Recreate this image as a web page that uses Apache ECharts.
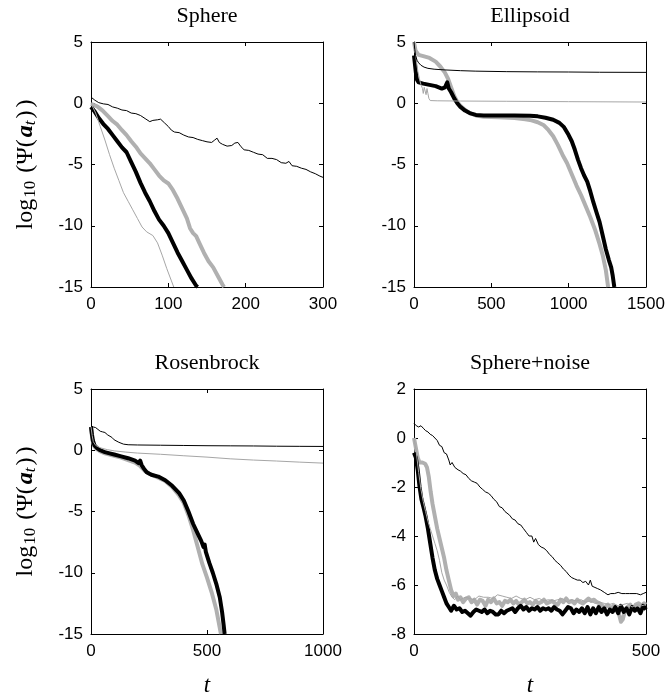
<!DOCTYPE html>
<html lang="en">
<head>
	<meta charset="UTF-8">
	<title>convergence</title>
	<style>
		body{ margin:0; background:#fff; }
		#main{ width:668px; height:696px; }
	</style>
</head>
<body>
	<div id="main"></div>

	<script src="https://cdn.jsdelivr.net/npm/echarts@6/dist/echarts.min.js"></script>
	<script>
		// ---- data, [t, log10 value] ----
		var titles = ['Sphere', 'Ellipsoid', 'Rosenbrock', 'Sphere+noise'];
		var xMax = [300, 1500, 1000, 500];
		var xStep = [100, 500, 500, 500];
		var yMin = [-15, -15, -15, -8];
		var yMax = [5, 5, 5, 2];
		var yStep = [5, 5, 5, 2];

		// Sphere
		var sphereThinBlack = [[0,0.5],[5,0.25],[10,0.05],[16,-0.05],[22,-0.1],[28,-0.3],[34,-0.4],[40,-0.55],[46,-0.6],[52,-0.8],[58,-0.85],[64,-1.0],[70,-1.25],[76,-1.5],[80,-1.4],[86,-1.35],[90,-1.3],[95,-1.6],[100,-1.9],[104,-2.2],[108,-2.35],[114,-2.4],[120,-2.6],[126,-2.75],[132,-2.8],[138,-2.95],[144,-3.05],[150,-3.15],[156,-3.2],[160,-3.0],[163,-2.85],[166,-3.2],[170,-3.35],[176,-3.5],[182,-3.45],[186,-3.25],[190,-3.2],[194,-3.55],[198,-3.8],[204,-3.85],[210,-4.0],[216,-4.15],[222,-4.2],[228,-4.5],[234,-4.5],[240,-4.6],[246,-4.85],[252,-4.9],[256,-4.75],[260,-5.1],[266,-5.15],[272,-5.3],[278,-5.4],[284,-5.6],[290,-5.75],[296,-5.95],[300,-6.05]];
		var sphereThinGray = [[0,0],[6,-0.8],[12,-1.9],[18,-3.0],[24,-4.2],[30,-5.3],[36,-6.3],[42,-7.3],[48,-8.0],[54,-8.7],[60,-9.4],[66,-10.1],[72,-10.5],[80,-10.8],[86,-11.4],[92,-12.4],[98,-13.5],[104,-14.5],[107,-15]];
		var sphereThickGray = [[0,-0.05],[8,-0.25],[15,-0.6],[22,-1.05],[28,-1.45],[34,-1.75],[40,-2.2],[46,-2.6],[52,-3.1],[58,-3.55],[64,-4.1],[70,-4.5],[76,-4.9],[82,-5.4],[88,-5.9],[94,-6.3],[100,-6.55],[106,-7.1],[112,-7.8],[118,-8.6],[124,-9.4],[128,-10.2],[132,-10.6],[136,-10.85],[140,-11.4],[146,-12.2],[152,-12.9],[158,-13.4],[164,-14.1],[170,-14.8],[172,-15]];
		var sphereThickBlack = [[0,-0.3],[5,-0.7],[10,-1.2],[16,-1.7],[22,-2.1],[28,-2.6],[34,-3.1],[40,-3.6],[46,-4.0],[52,-4.8],[58,-5.6],[64,-6.5],[70,-7.3],[76,-8.0],[82,-8.8],[88,-9.5],[94,-10.0],[100,-10.6],[106,-11.4],[112,-12.2],[118,-12.9],[124,-13.6],[130,-14.3],[136,-14.9],[138,-15]];

		// Ellipsoid
		var ellipThinBlack = [[0,5],[5,4.4],[10,3.9],[20,3.5],[30,3.3],[45,3.1],[65,2.95],[90,2.85],[130,2.78],[200,2.72],[300,2.66],[400,2.62],[600,2.58],[800,2.56],[1000,2.55],[1200,2.53],[1500,2.52]];
		var ellipThinGray = [[0,5],[8,4.2],[16,3.4],[25,2.6],[35,2.0],[45,1.5],[55,1.2],[60,0.8],[66,1.3],[72,1.0],[78,0.7],[84,1.2],[90,0.8],[96,0.4],[105,0.22],[150,0.2],[300,0.18],[600,0.16],[1000,0.13],[1500,0.1]];
		var ellipThickGray = [[0,5],[10,4.3],[30,3.95],[60,3.85],[100,3.7],[140,3.4],[170,3.0],[200,2.5],[220,2.0],[240,1.3],[260,0.6],[280,0.1],[300,-0.2],[330,-0.55],[360,-0.8],[400,-1.0],[450,-1.1],[550,-1.15],[650,-1.2],[720,-1.3],[760,-1.4],[800,-1.55],[840,-1.8],[870,-2.2],[900,-2.7],[930,-3.4],[960,-4.2],[990,-4.9],[1020,-5.8],[1050,-6.7],[1080,-7.5],[1110,-8.4],[1140,-9.3],[1170,-10.3],[1200,-11.5],[1220,-12.4],[1240,-13.6],[1255,-15]];
		var ellipThickBlack = [[0,3.9],[6,3.2],[12,2.5],[20,1.9],[30,1.7],[60,1.6],[100,1.5],[140,1.4],[180,1.2],[200,1.3],[215,1.7],[225,1.2],[240,0.9],[260,0.4],[280,0.0],[300,-0.3],[330,-0.6],[360,-0.8],[400,-0.95],[450,-1.0],[550,-1.0],[650,-1.0],[750,-1.02],[800,-1.07],[850,-1.18],[900,-1.35],[940,-1.6],[970,-1.95],[1000,-2.6],[1020,-3.1],[1040,-3.8],[1060,-4.6],[1080,-5.3],[1100,-5.9],[1120,-6.4],[1140,-7.2],[1160,-8.1],[1180,-8.9],[1200,-9.7],[1220,-10.8],[1240,-11.9],[1260,-12.8],[1275,-13.4],[1285,-14.1],[1295,-15]];

		// Rosenbrock
		var rosenThinBlack = [[0,2.0],[10,1.9],[20,1.85],[30,1.7],[40,1.55],[45,1.65],[50,1.5],[60,1.45],[66,1.55],[72,1.25],[80,1.15],[90,1.05],[100,0.85],[120,0.65],[140,0.5],[160,0.45],[200,0.43],[300,0.41],[400,0.39],[500,0.37],[600,0.36],[700,0.35],[800,0.33],[900,0.32],[1000,0.31]];
		var rosenThinGray = [[0,1.9],[5,1.2],[10,0.7],[20,0.4],[40,0.2],[70,0.05],[100,-0.05],[150,-0.15],[200,-0.23],[300,-0.33],[400,-0.45],[500,-0.56],[600,-0.7],[700,-0.8],[800,-0.88],[900,-0.97],[1000,-1.05]];
		var rosenThickGray = [[0,1.9],[4,1.2],[8,0.7],[15,0.3],[25,0.1],[40,-0.1],[60,-0.25],[80,-0.35],[100,-0.45],[130,-0.6],[160,-0.8],[190,-1.0],[210,-1.25],[230,-1.65],[250,-1.9],[280,-2.15],[320,-2.5],[350,-3.0],[380,-3.7],[400,-4.3],[420,-5.3],[440,-6.5],[460,-7.9],[480,-9.3],[500,-10.4],[520,-11.6],[540,-13.0],[552,-14.2],[560,-15]];
		var rosenThickBlack = [[0,1.9],[4,1.3],[8,0.8],[15,0.4],[25,0.2],[40,0.0],[60,-0.15],[80,-0.25],[100,-0.35],[130,-0.5],[160,-0.65],[190,-0.85],[205,-1.05],[212,-0.85],[218,-1.2],[228,-1.5],[240,-1.8],[260,-2.0],[290,-2.15],[320,-2.45],[350,-2.9],[380,-3.5],[400,-4.1],[420,-5.0],[440,-6.0],[460,-6.8],[475,-7.4],[485,-7.9],[490,-7.7],[495,-8.3],[510,-9.2],[525,-10.0],[540,-10.9],[555,-12.0],[565,-13.2],[572,-14.3],[576,-15]];

		// Sphere+noise
		var noiseThinBlack = [[0,0.6],[5,0.5],[10,0.45],[15,0.5],[20,0.4],[25,0.3],[30,0.25],[35,0.15],[40,0.1],[45,0.0],[50,-0.1],[55,-0.3],[60,-0.35],[65,-0.6],[70,-0.65],[75,-0.9],[78,-1.1],[82,-1.0],[88,-1.2],[95,-1.3],[100,-1.35],[106,-1.45],[112,-1.5],[118,-1.65],[124,-1.75],[130,-1.8],[136,-1.85],[142,-2.0],[148,-2.1],[154,-2.2],[160,-2.25],[166,-2.35],[172,-2.5],[178,-2.6],[184,-2.8],[190,-2.85],[196,-3.0],[200,-2.95],[206,-3.15],[212,-3.3],[218,-3.35],[224,-3.5],[230,-3.55],[236,-3.7],[242,-3.85],[248,-4.0],[254,-4.0],[258,-4.25],[262,-4.1],[268,-4.35],[274,-4.45],[280,-4.5],[286,-4.6],[292,-4.75],[298,-4.85],[304,-5.0],[310,-5.1],[316,-5.2],[322,-5.35],[328,-5.45],[334,-5.6],[340,-5.7],[346,-5.75],[352,-5.8],[358,-5.8],[364,-5.9],[370,-5.85],[376,-6.0],[380,-5.8],[384,-6.05],[390,-6.1],[396,-6.15],[402,-6.2],[410,-6.3],[418,-6.4],[424,-6.35],[432,-6.35],[440,-6.3],[448,-6.35],[456,-6.35],[464,-6.35],[472,-6.35],[480,-6.35],[488,-6.4],[494,-6.35],[500,-6.3]];
		var noiseThinGray = [[0,0.0],[5,-0.6],[10,-1.4],[15,-2.1],[20,-2.6],[25,-3.0],[30,-3.4],[35,-3.7],[40,-4.0],[45,-4.3],[50,-4.6],[55,-5.0],[60,-5.5],[65,-5.8],[70,-6.0],[76,-6.3],[82,-6.5],[88,-6.6],[94,-6.45],[100,-6.6],[110,-6.5],[120,-6.55],[130,-6.6],[140,-6.45],[150,-6.5],[160,-6.5],[170,-6.55],[180,-6.4],[190,-6.45],[200,-6.5],[210,-6.55],[220,-6.45],[230,-6.55],[240,-6.6],[250,-6.5],[260,-6.6],[270,-6.55],[280,-6.65],[290,-6.6],[300,-6.65],[310,-6.6],[320,-6.55],[330,-6.7],[340,-6.6],[350,-6.65],[360,-6.6],[370,-6.7],[380,-6.65],[390,-6.75],[400,-6.7],[410,-6.75],[420,-6.8],[430,-6.75],[440,-6.85],[450,-6.8],[460,-6.75],[470,-6.9],[480,-6.8],[490,-6.85],[500,-6.8]];
		var noiseThickGray = [[0,0.0],[4,-0.4],[8,-0.8],[12,-1.0],[18,-1.0],[24,-1.05],[28,-1.2],[32,-1.6],[36,-2.2],[40,-2.7],[45,-3.2],[50,-3.7],[55,-4.1],[60,-4.5],[65,-4.9],[70,-5.4],[75,-5.8],[80,-6.2],[85,-6.45],[90,-6.35],[95,-6.6],[100,-6.5],[106,-6.7],[112,-6.55],[118,-6.5],[124,-6.7],[130,-6.6],[136,-6.8],[142,-6.6],[148,-6.65],[154,-6.85],[160,-6.6],[166,-6.7],[172,-6.55],[178,-6.75],[184,-6.7],[190,-6.85],[196,-6.65],[202,-6.7],[208,-6.6],[214,-6.75],[220,-6.65],[226,-6.8],[232,-6.7],[238,-6.6],[244,-6.75],[250,-6.7],[256,-6.8],[262,-6.65],[268,-6.75],[274,-6.7],[280,-6.6],[286,-6.75],[292,-6.7],[298,-6.65],[304,-6.75],[310,-6.8],[316,-6.6],[322,-6.7],[328,-6.55],[334,-6.7],[340,-6.65],[346,-6.75],[352,-6.6],[358,-6.7],[364,-6.75],[370,-6.65],[376,-6.55],[382,-6.65],[388,-6.6],[394,-6.7],[400,-6.75],[406,-6.85],[412,-6.9],[418,-6.8],[424,-7.0],[430,-6.85],[436,-6.95],[442,-7.2],[446,-7.5],[450,-7.4],[454,-7.1],[460,-6.9],[466,-6.8],[472,-7.0],[478,-6.8],[484,-6.75],[490,-6.85],[496,-6.75],[500,-6.8]];
		var noiseThickBlack = [[0,-0.6],[4,-0.8],[8,-1.3],[12,-2.0],[16,-2.5],[20,-2.8],[25,-3.2],[30,-3.7],[35,-4.3],[40,-4.9],[45,-5.4],[50,-5.75],[55,-6.0],[60,-6.25],[65,-6.5],[70,-6.75],[75,-6.9],[80,-7.05],[86,-6.85],[92,-7.0],[98,-6.95],[104,-7.1],[110,-7.05],[116,-7.15],[122,-7.25],[128,-7.1],[134,-7.0],[140,-7.05],[146,-7.1],[152,-7.0],[158,-7.15],[164,-7.05],[170,-7.1],[176,-7.2],[182,-7.2],[188,-7.05],[194,-7.15],[200,-7.05],[206,-7.0],[212,-6.95],[218,-7.1],[224,-6.95],[230,-6.85],[236,-7.0],[242,-6.9],[248,-7.05],[254,-6.95],[260,-7.0],[266,-6.9],[272,-7.05],[278,-6.95],[284,-7.0],[290,-6.95],[296,-7.05],[302,-6.9],[308,-7.0],[314,-7.05],[320,-7.2],[326,-7.05],[332,-6.9],[338,-6.95],[344,-7.15],[350,-7.0],[356,-7.1],[362,-6.95],[368,-7.15],[374,-6.9],[380,-7.2],[386,-6.95],[392,-7.15],[398,-6.9],[404,-7.1],[410,-6.95],[416,-7.2],[422,-7.0],[428,-7.1],[434,-6.9],[440,-7.15],[446,-6.85],[452,-7.1],[458,-6.95],[464,-7.2],[470,-6.9],[476,-7.05],[482,-6.95],[488,-7.15],[494,-6.85],[500,-7.0]];

		// per panel: thick gray, thick black, thin gray, thin black (draw order)
		var panelData = [
			[sphereThickGray, sphereThickBlack, sphereThinGray, sphereThinBlack],
			[ellipThickGray, ellipThickBlack, ellipThinGray, ellipThinBlack],
			[rosenThickGray, rosenThickBlack, rosenThinGray, rosenThinBlack],
			[noiseThickGray, noiseThickBlack, noiseThinGray, noiseThinBlack]
		];

		// ---- layout ----
		var boxes = [
			{left: 91, top: 42},
			{left: 414, top: 42},
			{left: 91, top: 389},
			{left: 414, top: 389}
		];
		var boxW = 232, boxH = 245;

		var serif = "'Liberation Serif', 'DejaVu Serif', serif";
		var sans = "'Liberation Sans', Arial, sans-serif";

		var grid = [], xAxis = [], yAxis = [], title = [], series = [];
		var lineStyles = [
			{color: '#b0b0b0', width: 4},
			{color: '#000', width: 4},
			{color: '#a6a6a6', width: 1},
			{color: '#000', width: 1}
		];

		function plainNum(v) { return String(v); }

		for (var i = 0; i < 4; i++) {
			var b = boxes[i];
			// outerBoundsMode none: keep the box where it is, labels may run to the edge
			grid.push({left: b.left, top: b.top, width: boxW, height: boxH, containLabel: false, outerBoundsMode: 'none'});
			title.push({
				text: titles[i],
				left: b.left + boxW / 2,
				top: b.top - 37,
				padding: 0,
				textAlign: 'center',
				textStyle: {fontFamily: serif, fontSize: 22, fontWeight: 'normal', color: '#000'}
			});

			var baseAxis = {
				axisLine: {show: true, onZero: false, lineStyle: {color: '#000', width: 1}},
				axisTick: {show: true, inside: true, length: 4, lineStyle: {color: '#000'}},
				splitLine: {show: false}
			};

			// bottom x axis
			var xa = Object.assign({}, baseAxis, {
				type: 'value', gridIndex: i, position: 'bottom',
				min: 0, max: xMax[i], interval: xStep[i],
				axisLabel: {color: '#000', fontFamily: sans, fontSize: 17, margin: 9, showMinLabel: true, showMaxLabel: true, formatter: plainNum}
			});
			if (i >= 2) {
				xa.name = 't';
				xa.nameLocation = 'middle';
				xa.nameGap = 40;
				xa.nameTextStyle = {fontFamily: serif, fontStyle: 'italic', fontSize: 23, color: '#000'};
			}
			xAxis.push(xa);
			// top mirror
			xAxis.push(Object.assign({}, baseAxis, {
				type: 'value', gridIndex: i, position: 'top',
				min: 0, max: xMax[i], interval: xStep[i],
				axisLabel: {show: false}
			}));

			// left y axis
			var ya = Object.assign({}, baseAxis, {
				type: 'value', gridIndex: i, position: 'left',
				min: yMin[i], max: yMax[i], interval: yStep[i],
				axisLabel: {color: '#000', fontFamily: sans, fontSize: 17, margin: 8, showMinLabel: true, showMaxLabel: true, formatter: plainNum}
			});
			if (i == 0 || i == 2) {
				ya.name = '{n|log}{s|10}{n| (Ψ(}{b|a}{bs|t}{n|)}{p|)}';
				ya.nameLocation = 'middle';
				ya.nameRotate = 90;
				ya.nameGap = 52;
				ya.nameTextStyle = {
					rich: {
						n: {fontFamily: serif, fontSize: 24, color: '#000', lineHeight: 26},
						p: {fontFamily: serif, fontSize: 24, color: '#000', lineHeight: 26, padding: [0, 0, 0, 3]},
						s: {fontFamily: serif, fontSize: 17, color: '#000', verticalAlign: 'bottom', lineHeight: 15, padding: [0, 2, 0, 1]},
						b: {fontFamily: serif, fontSize: 24, fontWeight: 'bold', fontStyle: 'italic', color: '#000', lineHeight: 26, padding: [0, 0, 0, 2]},
						bs: {fontFamily: serif, fontSize: 17, fontStyle: 'italic', color: '#000', verticalAlign: 'bottom', lineHeight: 15, padding: [0, 2, 0, 0]}
					}
				};
			}
			yAxis.push(ya);
			// right mirror
			yAxis.push(Object.assign({}, baseAxis, {
				type: 'value', gridIndex: i, position: 'right',
				min: yMin[i], max: yMax[i], interval: yStep[i],
				axisLabel: {show: false}
			}));

			for (var k = 0; k < 4; k++) {
				series.push({
					type: 'line',
					xAxisIndex: 2 * i,
					yAxisIndex: 2 * i,
					data: panelData[i][k],
					showSymbol: false,
					symbol: 'none',
					clip: true,
					lineStyle: {color: lineStyles[k].color, width: lineStyles[k].width, join: 'round', cap: 'butt'},
					z: 2 + k
				});
			}
		}

		var myChart = echarts.init(document.getElementById('main'), null, {renderer: 'canvas'});
		var option = {
			backgroundColor: '#fff',
			animation: false,
			title: title,
			grid: grid,
			xAxis: xAxis,
			yAxis: yAxis,
			series: series
		};
		myChart.setOption(option);
	</script>
</body>
</html>
